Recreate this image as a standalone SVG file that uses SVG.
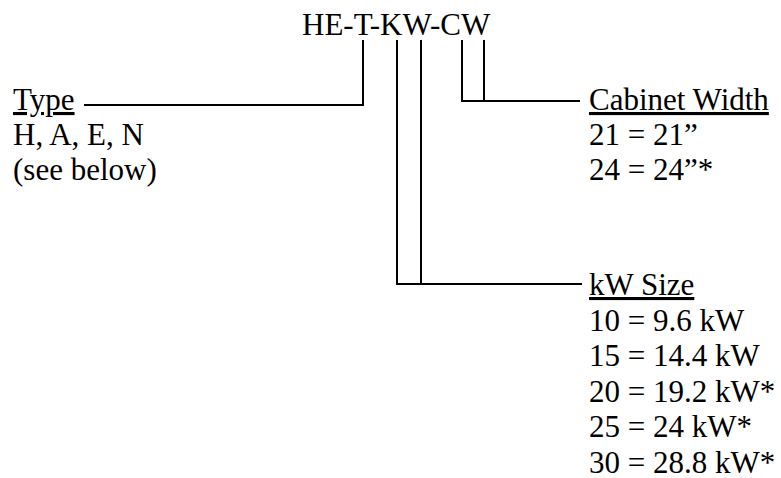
<svg xmlns="http://www.w3.org/2000/svg" width="781" height="478" viewBox="0 0 781 478">
  <style>
    .t { font-family: "Liberation Serif", "Times New Roman", serif; font-size: 31px; fill: #000; }
    .u { text-decoration: underline; }
    .c { fill: none; stroke: #000; stroke-width: 2; }
  </style>
  <rect width="781" height="478" fill="#fff"/>
  <g id="title">
    <text class="t" x="302" y="35">HE-T-KW-CW</text>
  </g>
  <g id="type">
    <text class="t u" x="13" y="110">Type</text>
    <text class="t" x="13" y="145">H, A, E, N</text>
    <text class="t" x="13" y="180">(see below)</text>
  </g>
  <g id="cabinet-width">
    <text class="t u" x="589" y="110">Cabinet Width</text>
    <text class="t" x="589" y="145">21 = 21”</text>
    <text class="t" x="589" y="180">24 = 24”*</text>
  </g>
  <g id="kw-size">
    <text class="t u" x="589" y="295">kW Size</text>
    <text class="t" x="589" y="330.5">10 = 9.6 kW</text>
    <text class="t" x="589" y="366">15 = 14.4 kW</text>
    <text class="t" x="589" y="401.5">20 = 19.2 kW*</text>
    <text class="t" x="589" y="437">25 = 24 kW*</text>
    <text class="t" x="589" y="472.5">30 = 28.8 kW*</text>
  </g>
  <g id="connectors">
    <polyline class="c" points="363,40 363,105 84,105"/>
    <polyline class="c" points="397,40 397,284 582,284"/>
    <line class="c" x1="421" y1="40" x2="421" y2="284"/>
    <polyline class="c" points="462,40 462,101 580,101"/>
    <line class="c" x1="484" y1="40" x2="484" y2="101"/>
  </g>
</svg>
